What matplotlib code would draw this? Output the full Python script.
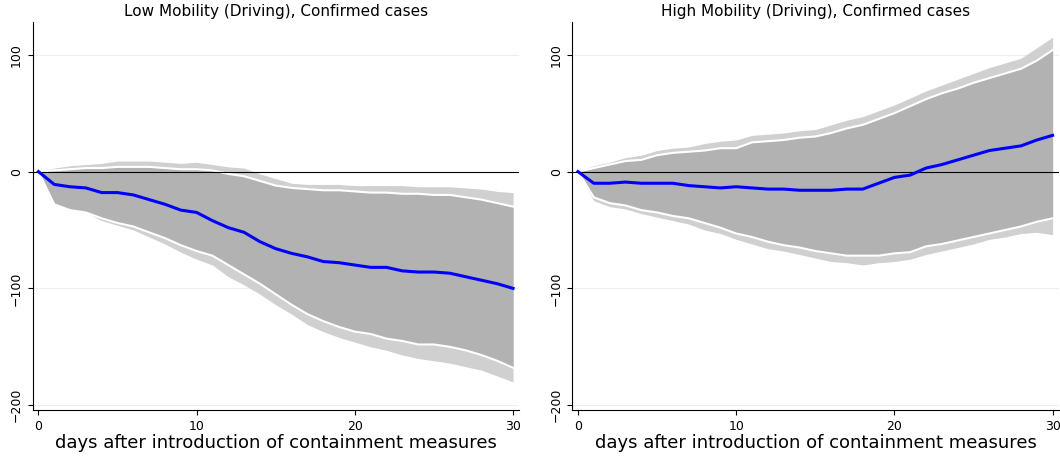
import matplotlib.pyplot as plt
import numpy as np

days = np.arange(31)

# left panel: low mobility
low_irf = [0, -11, -13, -14, -18, -18, -20, -24, -28, -33, -35, -42, -48, -52, -60, -66, -70, -73, -77, -78,
           -80, -82, -82, -85, -86, -86, -87, -90, -93, -96, -100]
low_in_hi = [0, 1, 2, 3, 3, 4, 4, 4, 3, 2, 2, 1, -2, -4, -8, -12, -14, -15, -16, -16,
             -17, -18, -18, -19, -19, -20, -20, -22, -24, -27, -30]
low_in_lo = [0, -28, -33, -35, -40, -44, -47, -52, -57, -63, -68, -72, -80, -88, -96, -105, -114, -122, -128, -133,
             -137, -139, -143, -145, -148, -148, -150, -153, -157, -162, -168]
low_out_hi = [0, 3, 5, 6, 7, 9, 9, 9, 8, 7, 8, 6, 4, 3, -2, -6, -10, -11, -11, -11,
              -12, -12, -12, -12, -13, -13, -13, -14, -15, -17, -18]
low_out_lo = [0, -25, -32, -35, -42, -46, -50, -56, -62, -69, -75, -80, -90, -97, -105, -114, -122, -131, -137, -142,
              -146, -150, -153, -157, -160, -162, -164, -167, -170, -175, -180]

# right panel: high mobility
high_irf = [0, -10, -10, -9, -10, -10, -10, -12, -13, -14, -13, -14, -15, -15, -16, -16, -16, -15, -15, -10,
            -5, -3, 3, 6, 10, 14, 18, 20, 22, 27, 31]
high_in_hi = [0, 3, 6, 9, 10, 14, 16, 17, 18, 20, 20, 25, 26, 27, 29, 30, 33, 37, 40, 45,
              50, 56, 62, 67, 71, 76, 80, 84, 88, 95, 104]
high_in_lo = [0, -22, -27, -29, -33, -35, -38, -40, -44, -48, -53, -56, -60, -63, -65, -68, -70, -72, -72, -72,
              -70, -69, -64, -62, -59, -56, -53, -50, -47, -43, -40]
high_out_hi = [0, 5, 8, 12, 14, 18, 20, 21, 24, 26, 27, 31, 32, 33, 35, 36, 40, 44, 47, 52,
               57, 63, 69, 74, 79, 84, 89, 93, 97, 106, 115]
high_out_lo = [0, -25, -30, -32, -36, -39, -42, -45, -50, -53, -58, -62, -66, -68, -71, -74, -77, -78, -80, -78,
               -77, -75, -71, -68, -65, -62, -58, -56, -53, -52, -54]

panels = [
    ("Low Mobility (Driving), Confirmed cases", low_irf, low_in_hi, low_in_lo, low_out_hi, low_out_lo),
    ("High Mobility (Driving), Confirmed cases", high_irf, high_in_hi, high_in_lo, high_out_hi, high_out_lo),
]

fig = plt.figure(figsize=(10.6, 4.59), dpi=100)
lefts = [0.031, 0.540]
for left, (title, irf, ihi, ilo, ohi, olo) in zip(lefts, panels):
    ax = fig.add_axes([left, 0.107, 0.459, 0.845])
    ax.fill_between(days, olo, ohi, color="#d0d0d0", lw=0)
    ax.fill_between(days, ilo, ihi, color="#b2b2b2", lw=0)
    ax.plot(days, ihi, color="white", lw=1.5)
    ax.plot(days, ilo, color="white", lw=1.5)
    ax.axhline(0, color="black", lw=0.8)
    ax.plot(days, irf, color="blue", lw=2.2)
    ax.set_xlim(-0.35, 30.4)
    ax.set_ylim(-204, 128)
    ax.set_xticks([0, 10, 20, 30])
    ax.set_yticks([-200, -100, 0, 100])
    ax.grid(axis="y", color="#eeeeee", lw=0.8)
    ax.set_axisbelow(True)
    for lab in ax.get_yticklabels():
        lab.set_rotation(90)
        lab.set_va("center")
    ax.tick_params(labelsize=9)
    for s in ["top", "right"]:
        ax.spines[s].set_visible(False)
    ax.set_title(title, fontsize=11, pad=4)
    ax.set_xlabel("days after introduction of containment measures", fontsize=13, labelpad=1)

fig.savefig("out.png", dpi=100, facecolor="white")
